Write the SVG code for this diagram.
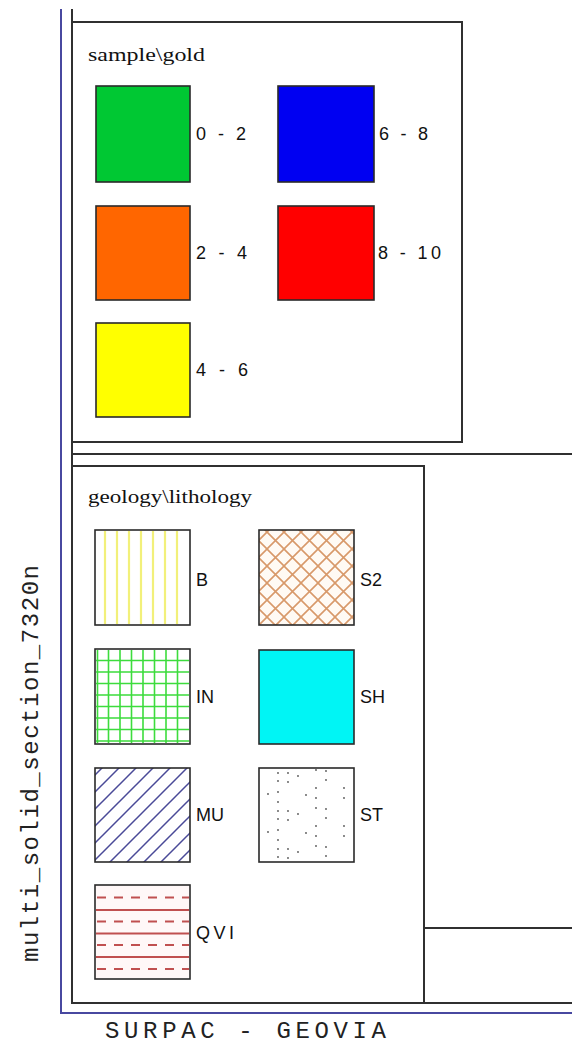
<svg xmlns="http://www.w3.org/2000/svg" width="572" height="1045" viewBox="0 0 572 1045">
<style>
.frame{fill:none;stroke:#303030;stroke-width:2}
.blue{fill:none;stroke:#4848a0;stroke-width:2}
.sw{stroke:#2a2a2a;stroke-width:1.6}
.lbl{font-family:"Liberation Sans",Arial,sans-serif;font-size:18px;fill:#111}
.ttl{font-family:"Liberation Serif","Times New Roman",serif;font-size:19px;fill:#111}
.mono{font-family:"Liberation Mono","Courier New",monospace;fill:#222}
</style>
<defs>
<pattern id="pS2" patternUnits="userSpaceOnUse" x="267" y="532" width="17" height="17">
<path d="M-4,-4 L21,21 M12,-5 L22,5 M-5,12 L5,22 M-4,21 L21,-4 M-5,5 L5,-5 M12,22 L22,12" stroke="#d8996a" stroke-width="1.6" fill="none"/>
</pattern>
<pattern id="pMU" patternUnits="userSpaceOnUse" x="102" y="768" width="17" height="17">
<path d="M-4,21 L21,-4 M-5,5 L5,-5 M12,22 L22,12" stroke="#4a4a98" stroke-width="1.5" fill="none"/>
</pattern>
<pattern id="pST" patternUnits="userSpaceOnUse" x="259" y="768" width="96" height="38">
<g fill="#555">
<circle cx="19" cy="5" r="0.9"/><circle cx="29" cy="5" r="0.9"/><circle cx="29" cy="14" r="0.9"/>
<circle cx="39" cy="8" r="0.9"/><circle cx="19" cy="13" r="0.9"/><circle cx="57" cy="2" r="0.9"/>
<circle cx="67" cy="3" r="0.9"/><circle cx="67" cy="12" r="0.9"/><circle cx="57" cy="20" r="0.9"/>
<circle cx="85" cy="20" r="0.9"/><circle cx="9" cy="26" r="0.9"/><circle cx="19" cy="24" r="0.9"/>
<circle cx="47" cy="27" r="0.9"/><circle cx="57" cy="30" r="0.9"/><circle cx="85" cy="30" r="0.9"/>
<circle cx="19" cy="34" r="0.9"/>
</g>
</pattern>
</defs>

<g id="frames">
<path class="blue" d="M61,9 V1013 H572"/>
<path class="frame" d="M72,9 V1003 H572"/>
<path class="frame" d="M72,22 H462 V442 H72"/>
<path class="frame" d="M72,454 H572"/>
<path class="frame" d="M72,466 H424 V1003"/>
<path class="frame" d="M424,928 H572"/>
</g>

<g id="title-gold"><text class="ttl" x="88" y="61" textLength="117" lengthAdjust="spacingAndGlyphs">sample\gold</text></g>
<g id="title-lith"><text class="ttl" x="88" y="503" textLength="164" lengthAdjust="spacingAndGlyphs">geology\lithology</text></g>

<g id="gold-0-2"><rect class="sw" x="96" y="86" width="94" height="96" fill="#00c833"/><text class="lbl" x="196" y="140" textLength="50" lengthAdjust="spacing">0 - 2</text></g>
<g id="gold-6-8"><rect class="sw" x="278" y="86" width="96" height="96" fill="#0000f2"/><text class="lbl" x="379" y="140" textLength="49" lengthAdjust="spacing">6 - 8</text></g>
<g id="gold-2-4"><rect class="sw" x="96" y="206" width="94" height="94" fill="#ff6600"/><text class="lbl" x="196" y="259" textLength="51" lengthAdjust="spacing">2 - 4</text></g>
<g id="gold-8-10"><rect class="sw" x="278" y="206" width="96" height="94" fill="#ff0000"/><text class="lbl" x="378" y="259" textLength="63" lengthAdjust="spacing">8 - 10</text></g>
<g id="gold-4-6"><rect class="sw" x="96" y="323" width="94" height="94" fill="#ffff00"/><text class="lbl" x="196" y="376" textLength="52" lengthAdjust="spacing">4 - 6</text></g>

<g id="lith-B">
<rect x="95" y="530" width="95" height="95" fill="#fff"/>
<g stroke="#f2f07a" stroke-width="2.2">
<path d="M105,531 V624 M117,531 V624 M129,531 V624 M141,531 V624 M153,531 V624 M165,531 V624 M177,531 V624"/>
</g>
<rect class="sw" x="95" y="530" width="95" height="95" fill="none"/>
<text class="lbl" x="196" y="586">B</text>
</g>
<g id="lith-S2">
<rect x="259" y="530" width="95" height="95" fill="#fffaf4"/>
<rect x="259" y="530" width="95" height="95" fill="url(#pS2)"/>
<rect class="sw" x="259" y="530" width="95" height="95" fill="none"/>
<text class="lbl" x="360" y="586">S2</text>
</g>
<g id="lith-IN">
<rect x="95" y="649" width="95" height="95" fill="#fff"/>
<g stroke="#3ddc3d" stroke-width="1.6">
<path d="M97.5,650 V743 M108.5,650 V743 M120,650 V743 M131.5,650 V743 M143,650 V743 M154.5,650 V743 M166,650 V743 M177.5,650 V743"/>
<path d="M96,660.5 H189 M96,672 H189 M96,683.5 H189 M96,695 H189 M96,706.5 H189 M96,718 H189 M96,729.5 H189 M96,741 H189"/>
</g>
<rect class="sw" x="95" y="649" width="95" height="95" fill="none"/>
<text class="lbl" x="196" y="703">IN</text>
</g>
<g id="lith-SH">
<rect class="sw" x="259" y="650" width="95" height="94" fill="#00f5f5"/>
<text class="lbl" x="360" y="703">SH</text>
</g>
<g id="lith-MU">
<rect x="95" y="768" width="95" height="94" fill="#fff"/>
<rect x="95" y="768" width="95" height="94" fill="url(#pMU)"/>
<rect class="sw" x="95" y="768" width="95" height="94" fill="none"/>
<text class="lbl" x="196" y="821">MU</text>
</g>
<g id="lith-ST">
<rect x="259" y="768" width="95" height="94" fill="#fff"/>
<rect x="259" y="768" width="95" height="94" fill="url(#pST)"/>
<rect class="sw" x="259" y="768" width="95" height="94" fill="none"/>
<text class="lbl" x="360" y="821">ST</text>
</g>
<g id="lith-QVI">
<rect x="95" y="885" width="95" height="94" fill="#fff8f8"/>
<g stroke="#c05050" stroke-width="1.8">
<path d="M96,910 H189 M96,933.5 H189 M96,957 H189"/>
<path d="M97,897.5 H189 M97,921.5 H189 M97,945 H189 M97,969 H189" stroke-dasharray="9,8"/>
</g>
<rect class="sw" x="95" y="885" width="95" height="94" fill="none"/>
<text class="lbl" x="196" y="939" textLength="38" lengthAdjust="spacing">QVI</text>
</g>

<g id="caption-vertical"><text class="mono" font-size="24" transform="translate(38,962) rotate(-90)" textLength="397" lengthAdjust="spacing">multi_solid_section_7320n</text></g>
<g id="caption-bottom"><text class="mono" font-size="24" x="105" y="1038" textLength="281" lengthAdjust="spacing">SURPAC - GEOVIA</text></g>
</svg>
